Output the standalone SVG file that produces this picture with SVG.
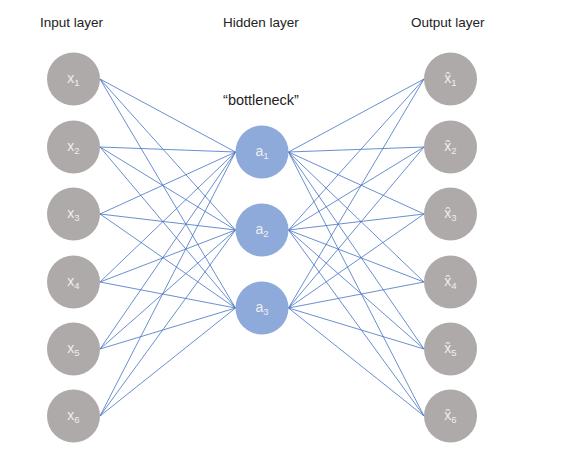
<svg xmlns="http://www.w3.org/2000/svg" width="564" height="464" viewBox="0 0 564 464">
<style>
.lbl{font-family:"Liberation Sans",Arial,sans-serif;font-size:13.5px;fill:#222}
.in circle,.out circle{fill:#aeaaaa}
.hid circle{fill:#8eaadb}
.nt{font-family:"Liberation Sans",Arial,sans-serif;font-size:14px;fill:#eeeeee;text-anchor:middle}
.sub{font-size:9.5px}
#connectors line{stroke:#4472c4;stroke-width:0.8}
</style>
<rect width="564" height="464" fill="#ffffff"/>
<text class="lbl" x="40" y="27">Input layer</text>
<text class="lbl" x="223" y="27">Hidden layer</text>
<text class="lbl" x="411" y="27">Output layer</text>
<text class="lbl" x="261" y="105" text-anchor="middle" style="font-size:14.5px">“bottleneck”</text>
<g id="connectors">
<line x1="100" y1="79" x2="235.5" y2="152"/><line x1="100" y1="79" x2="235.5" y2="230"/><line x1="100" y1="79" x2="235.5" y2="308"/>
<line x1="100" y1="147" x2="235.5" y2="152"/><line x1="100" y1="147" x2="235.5" y2="230"/><line x1="100" y1="147" x2="235.5" y2="308"/>
<line x1="100" y1="214" x2="235.5" y2="152"/><line x1="100" y1="214" x2="235.5" y2="230"/><line x1="100" y1="214" x2="235.5" y2="308"/>
<line x1="100" y1="282" x2="235.5" y2="152"/><line x1="100" y1="282" x2="235.5" y2="230"/><line x1="100" y1="282" x2="235.5" y2="308"/>
<line x1="100" y1="349" x2="235.5" y2="152"/><line x1="100" y1="349" x2="235.5" y2="230"/><line x1="100" y1="349" x2="235.5" y2="308"/>
<line x1="100" y1="416" x2="235.5" y2="152"/><line x1="100" y1="416" x2="235.5" y2="230"/><line x1="100" y1="416" x2="235.5" y2="308"/>
<line x1="288.5" y1="152" x2="424" y2="79"/><line x1="288.5" y1="230" x2="424" y2="79"/><line x1="288.5" y1="308" x2="424" y2="79"/>
<line x1="288.5" y1="152" x2="424" y2="147"/><line x1="288.5" y1="230" x2="424" y2="147"/><line x1="288.5" y1="308" x2="424" y2="147"/>
<line x1="288.5" y1="152" x2="424" y2="214"/><line x1="288.5" y1="230" x2="424" y2="214"/><line x1="288.5" y1="308" x2="424" y2="214"/>
<line x1="288.5" y1="152" x2="424" y2="282"/><line x1="288.5" y1="230" x2="424" y2="282"/><line x1="288.5" y1="308" x2="424" y2="282"/>
<line x1="288.5" y1="152" x2="424" y2="349"/><line x1="288.5" y1="230" x2="424" y2="349"/><line x1="288.5" y1="308" x2="424" y2="349"/>
<line x1="288.5" y1="152" x2="424" y2="416"/><line x1="288.5" y1="230" x2="424" y2="416"/><line x1="288.5" y1="308" x2="424" y2="416"/>
</g>
<g id="x1" class="in"><circle cx="73.5" cy="79" r="26.5"/><text class="nt" x="73.5" y="83">x<tspan class="sub" dy="3">1</tspan></text></g>
<g id="x2" class="in"><circle cx="73.5" cy="147" r="26.5"/><text class="nt" x="73.5" y="151">x<tspan class="sub" dy="3">2</tspan></text></g>
<g id="x3" class="in"><circle cx="73.5" cy="214" r="26.5"/><text class="nt" x="73.5" y="218">x<tspan class="sub" dy="3">3</tspan></text></g>
<g id="x4" class="in"><circle cx="73.5" cy="282" r="26.5"/><text class="nt" x="73.5" y="286">x<tspan class="sub" dy="3">4</tspan></text></g>
<g id="x5" class="in"><circle cx="73.5" cy="349" r="26.5"/><text class="nt" x="73.5" y="353">x<tspan class="sub" dy="3">5</tspan></text></g>
<g id="x6" class="in"><circle cx="73.5" cy="416" r="26.5"/><text class="nt" x="73.5" y="420">x<tspan class="sub" dy="3">6</tspan></text></g>
<g id="a1" class="hid"><circle cx="262" cy="152" r="26.5"/><text class="nt" x="262" y="156">a<tspan class="sub" dy="3">1</tspan></text></g>
<g id="a2" class="hid"><circle cx="262" cy="230" r="26.5"/><text class="nt" x="262" y="234">a<tspan class="sub" dy="3">2</tspan></text></g>
<g id="a3" class="hid"><circle cx="262" cy="308" r="26.5"/><text class="nt" x="262" y="312">a<tspan class="sub" dy="3">3</tspan></text></g>
<g id="y1" class="out"><circle cx="450.5" cy="79" r="26.5"/><text class="nt" x="450.5" y="83">x̂<tspan class="sub" dy="3">1</tspan></text></g>
<g id="y2" class="out"><circle cx="450.5" cy="147" r="26.5"/><text class="nt" x="450.5" y="151">x̂<tspan class="sub" dy="3">2</tspan></text></g>
<g id="y3" class="out"><circle cx="450.5" cy="214" r="26.5"/><text class="nt" x="450.5" y="218">x̂<tspan class="sub" dy="3">3</tspan></text></g>
<g id="y4" class="out"><circle cx="450.5" cy="282" r="26.5"/><text class="nt" x="450.5" y="286">x̂<tspan class="sub" dy="3">4</tspan></text></g>
<g id="y5" class="out"><circle cx="450.5" cy="349" r="26.5"/><text class="nt" x="450.5" y="353">x̂<tspan class="sub" dy="3">5</tspan></text></g>
<g id="y6" class="out"><circle cx="450.5" cy="416" r="26.5"/><text class="nt" x="450.5" y="420">x̂<tspan class="sub" dy="3">6</tspan></text></g>
</svg>
